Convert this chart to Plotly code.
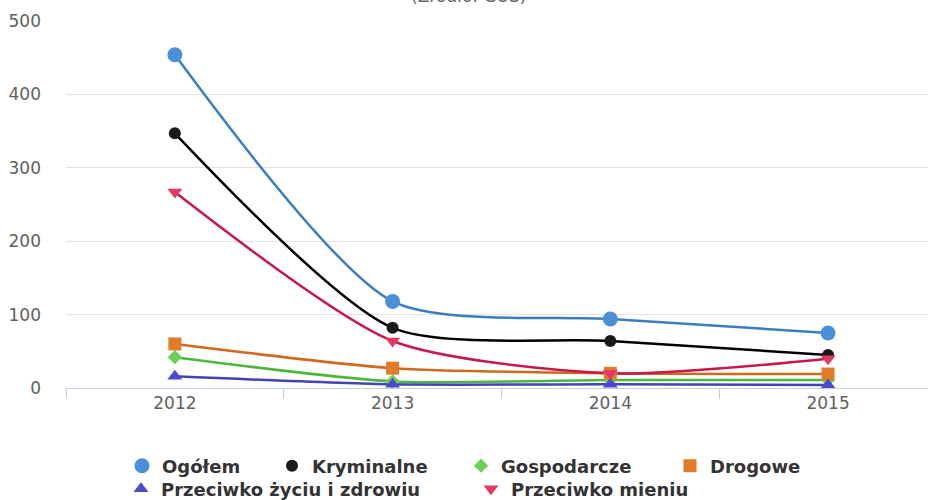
import plotly.graph_objects as go

years = ["2012", "2013", "2014", "2015"]
ogolem = [454, 118, 94, 75]
kryminalne = [347, 82, 64, 45]
gospodarcze = [42, 9, 11, 11]
drogowe = [60, 27, 20, 19]
zycie = [16, 5, 5, 4]
mienie = [267, 64, 20, 40]

series = [
    ("Ogółem", ogolem, "#3b7dc0", "#4a90d9", "circle", 15),
    ("Kryminalne", kryminalne, "#000000", "#1a1a1a", "circle", 12),
    ("Gospodarcze", gospodarcze, "#4cb83a", "#6bd156", "diamond", 11),
    ("Drogowe", drogowe, "#d0691e", "#e07b2a", "square", 13),
    ("Przeciwko życiu i zdrowiu", zycie, "#4343b8", "#4a4ad0", "triangle-up", 13),
    ("Przeciwko mieniu", mienie, "#c8174a", "#e03a62", "triangle-down", 13),
]

# legend symbol positions (px) in the window: (symbol centre x, row centre y)
legend_pos = [(142, 466), (292, 466), (481, 466), (690, 466), (141, 489), (491, 489)]

L, T, W, H = 66, 21, 862, 367

fig = go.Figure()
for name, vals, lc, mc, sym, sz in series:
    fig.add_trace(go.Scatter(
        x=years, y=vals, name=name, mode="lines", showlegend=False, legendgroup=name,
        line=dict(color=lc, width=2.5, shape="spline", smoothing=0.7),
        hoverinfo="skip",
    ))
legfont = dict(family="DejaVu Sans", size=18, color="#333333", weight="bold")
legends = {}
for i, (name, vals, lc, mc, sym, sz) in enumerate(series):
    key = "legend" if i == 0 else f"legend{i + 1}"
    fig.add_trace(go.Scatter(
        x=years, y=vals, name=name, mode="markers", legendgroup=name, legend=key,
        marker=dict(color=mc, symbol=sym, size=sz, line=dict(width=0)),
    ))
    px, py = legend_pos[i]
    legends[key] = dict(orientation="h", x=(px - 20 - L) / W, xanchor="left",
                        y=(T + H - py) / H, yanchor="middle",
                        font=legfont, itemsizing="trace", bgcolor="rgba(0,0,0,0)")

fig.update_layout(
    width=928, height=500,
    margin=dict(l=L, r=928 - L - W, t=T, b=500 - T - H, autoexpand=False),
    paper_bgcolor="white", plot_bgcolor="white",
    font=dict(family="DejaVu Sans", color="#606060", size=17),
    showlegend=True,
    xaxis=dict(type="category", range=[-0.5, 3.459], showgrid=False, automargin=False,
               showline=True, linecolor="#c0d0e0", linewidth=1,
               ticks="outside", tickson="boundaries", ticklen=10, tickcolor="#c0d0e0",
               tickfont=dict(size=17, color="#606060")),
    yaxis=dict(range=[0, 500], dtick=100, showgrid=True, gridcolor="#e3e3e3", gridwidth=1,
               zeroline=False, showline=False, ticklabelstandoff=24, automargin=False,
               tickfont=dict(size=17, color="#606060")),
    annotations=[dict(text="(Źródło: GUS)", xref="paper", yref="paper", x=0.4675, y=1 + 25 / H,
                      xanchor="center", yanchor="middle", showarrow=False,
                      font=dict(size=17, color="#666666"))],
    **legends,
)

fig.write_html("out.html", config={"displayModeBar": False},
               post_script="document.body.style.margin='0';")
